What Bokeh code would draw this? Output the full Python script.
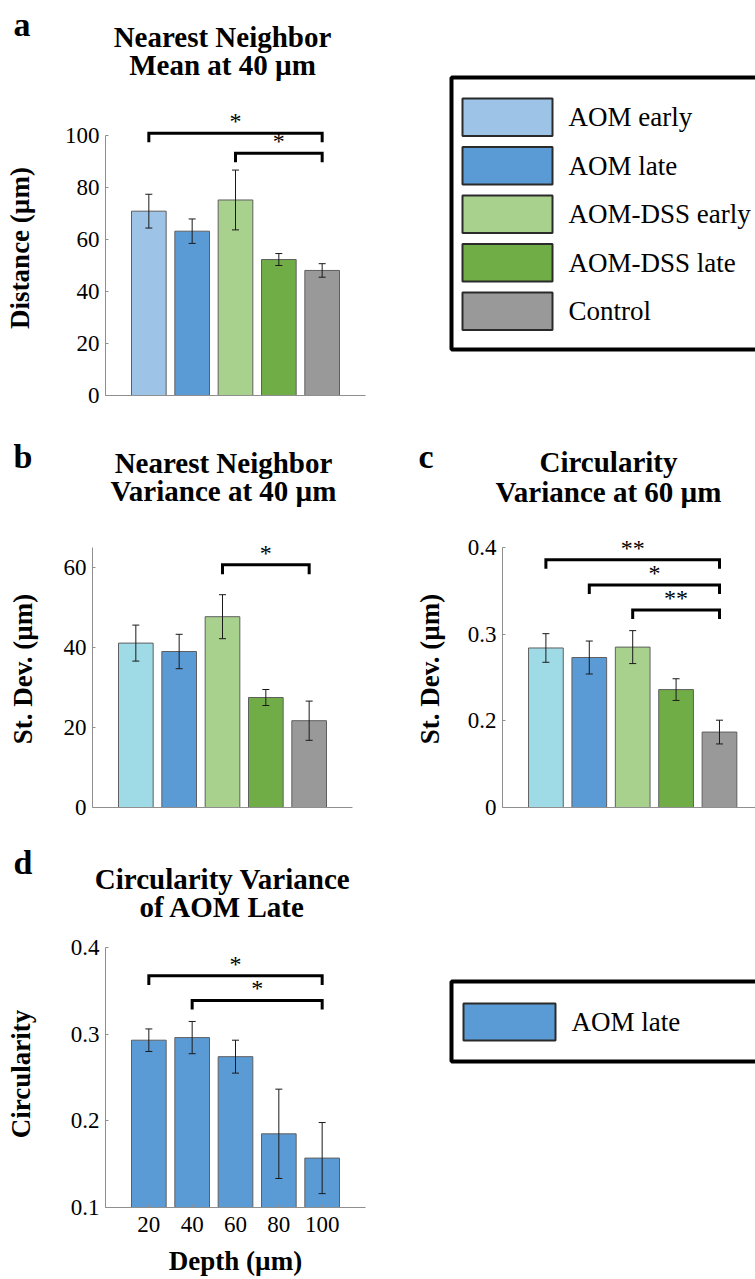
from bokeh.plotting import figure
from bokeh.models import ColumnDataSource, Whisker, TeeHead, FixedTicker, Range1d
from bokeh.layouts import column, row
from bokeh.core.properties import value
from bokeh.embed import file_html
from bokeh.resources import INLINE

# ---------------- data ----------------
groups = ["AOM early", "AOM late", "AOM-DSS early", "AOM-DSS late", "Control"]
colors_a = ["#9DC3E6", "#5B9BD5", "#A9D18E", "#70AD47", "#999999"]
colors_bc = ["#9FDBE6", "#5B9BD5", "#A9D18E", "#70AD47", "#999999"]

nn_mean = [70.9, 63.2, 75.2, 52.3, 48.1]
nn_mean_err = [6.5, 4.7, 11.5, 2.3, 2.6]

nn_var = [41.1, 39.0, 47.7, 27.5, 21.7]
nn_var_err = [4.5, 4.3, 5.5, 2.0, 4.9]

circ_var60 = [0.284, 0.273, 0.285, 0.236, 0.187]
circ_var60_err = [0.0165, 0.019, 0.019, 0.0125, 0.0137]

depths = ["20", "40", "60", "80", "100"]
circ_late = [0.293, 0.296, 0.274, 0.185, 0.157]
circ_late_err = [0.013, 0.0186, 0.019, 0.0515, 0.041]

ticks_a = [0, 20, 40, 60, 80, 100]
tick_labels_a = ["0", "20", "40", "60", "80", "100"]
ticks_b = [0, 20, 40, 60]
tick_labels_b = ["0", "20", "40", "60"]
ticks_c = [0.1, 0.2, 0.3, 0.4]
tick_labels_c = ["0", "0.2", "0.3", "0.4"]
ticks_d = [0.1, 0.2, 0.3, 0.4]
tick_labels_d = ["0.1", "0.2", "0.3", "0.4"]

# significance comparisons (i, j, stars), listed from top bracket to bottom bracket
comps_a = [(0, 4, "*"), (2, 4, "*")]
comps_b = [(2, 4, "*")]
comps_c = [(0, 4, "**"), (1, 4, "*"), (2, 4, "**")]
comps_d = [(0, 4, "*"), (1, 4, "*")]

SERIF = "Liberation Serif"
AXIS_GRAY = "#8f8f8f"


def blank(w, h):
    p = figure(width=w, height=h, x_range=Range1d(0, w), y_range=Range1d(h, 0),
               x_axis_type=None, y_axis_type=None, min_border=0,
               toolbar_location=None, output_backend="svg")
    p.outline_line_color = None
    p.background_fill_color = "white"
    p.border_fill_color = "white"
    return p


def header(w, h, lines, cx, centers, letter, lx, ly):
    p = blank(w, h)
    p.text(x=[cx] * len(lines), y=centers, text=lines, text_font=value(SERIF),
           text_font_size="29px", text_font_style="bold", text_align="center",
           text_baseline="middle", text_color="black")
    p.text(x=[lx], y=[ly], text=[letter], text_font=value(SERIF),
           text_font_size="34px", text_font_style="bold", text_align="left",
           text_baseline="middle", text_color="black")
    return row(p)


def bar_panel(vals, errs, cols, ylab, ticks, tick_labels, bounds, yr, x_end, comps,
              br_base, br_step, br_drop, size, borders, ylab_standoff,
              xcats=None, xlab=None):
    w, h = size
    bl, brd, bt, bb = borders
    p = figure(width=w, height=h, x_range=Range1d(0, x_end), y_range=Range1d(*yr),
               min_border_left=bl, min_border_right=brd, min_border_top=bt,
               min_border_bottom=bb, toolbar_location=None, output_backend="svg")
    p.outline_line_color = None
    p.grid.visible = False
    p.background_fill_color = "white"
    p.border_fill_color = "white"

    xs = list(range(1, len(vals) + 1))
    src = ColumnDataSource(dict(
        x=xs, top=vals, color=cols,
        upper=[v + e for v, e in zip(vals, errs)],
        lower=[v - e for v, e in zip(vals, errs)],
    ))
    p.vbar(x="x", top="top", bottom=yr[0], width=0.8, fill_color="color",
           line_color="#5f5f5f", line_width=1, source=src)
    wh = Whisker(source=src, base="x", upper="upper", lower="lower",
                 line_color="#1a1a1a", line_width=1, level="annotation",
                 upper_head=TeeHead(size=7, line_color="#1a1a1a", line_width=1),
                 lower_head=TeeHead(size=7, line_color="#1a1a1a", line_width=1))
    p.add_layout(wh)

    # significance brackets
    bx, by, sx, sy, st = [], [], [], [], []
    n = len(comps)
    for k, (i, j, star) in enumerate(comps):
        lvl = n - 1 - k
        hgt = br_base + lvl * br_step
        x0, x1 = xs[i], xs[j]
        bx.append([x0, x0, x1, x1])
        by.append([hgt - br_drop, hgt, hgt, hgt - br_drop])
        sx.append((x0 + x1) / 2)
        sy.append(hgt)
        st.append(star)
    p.multi_line(bx, by, line_color="black", line_width=3, line_join="miter")
    p.text(x=sx, y=sy, text=st, text_font=value(SERIF), text_font_size="24px",
           text_align="center", text_baseline="bottom", y_offset=1,
           text_color="black")

    # y axis
    ya = p.yaxis[0]
    ya.ticker = FixedTicker(ticks=ticks)
    ya.major_label_overrides = dict(zip(ticks, tick_labels))
    ya.bounds = bounds
    ya.axis_line_color = AXIS_GRAY
    ya.major_tick_line_color = AXIS_GRAY
    ya.minor_tick_line_color = None
    ya.major_tick_in = 3
    ya.major_tick_out = 0
    ya.major_label_standoff = 6
    ya.major_label_text_font = SERIF
    ya.major_label_text_font_size = "23px"
    ya.major_label_text_color = "black"
    ya.axis_label = ylab
    ya.axis_label_text_font = SERIF
    ya.axis_label_text_font_size = "27px"
    ya.axis_label_text_font_style = "bold"
    ya.axis_label_text_color = "black"
    ya.axis_label_standoff = ylab_standoff

    # x axis
    xa = p.xaxis[0]
    xa.axis_line_color = AXIS_GRAY
    xa.minor_tick_line_color = None
    if xcats is None:
        xa.ticker = FixedTicker(ticks=[])
        xa.major_tick_line_color = None
    else:
        xa.ticker = FixedTicker(ticks=xs)
        xa.major_label_overrides = dict(zip(xs, xcats))
        xa.major_tick_line_color = AXIS_GRAY
        xa.major_tick_in = 3
        xa.major_tick_out = 0
        xa.major_label_standoff = 9
        xa.major_label_text_font = SERIF
        xa.major_label_text_font_size = "23px"
        xa.major_label_text_color = "black"
        xa.axis_label = xlab
        xa.axis_label_text_font = SERIF
        xa.axis_label_text_font_size = "27px"
        xa.axis_label_text_font_style = "bold"
        xa.axis_label_text_color = "black"
        xa.axis_label_standoff = 11
    return p


def legend_panel(names, cols, size, box, first_top, pitch, sw_x, sw_w, sw_h, text_x):
    w, h = size
    p = blank(w, h)
    tops = [first_top + i * pitch for i in range(len(names))]
    src = ColumnDataSource(dict(
        left=[sw_x] * len(names), right=[sw_x + sw_w] * len(names),
        top=tops, bottom=[t + sw_h for t in tops], color=cols,
        tx=[text_x] * len(names), ty=[t + sw_h / 2 for t in tops], name=names,
    ))
    p.quad(left="left", right="right", top="top", bottom="bottom", fill_color="color",
           line_color="#2a2a2a", line_width=2, source=src)
    p.text(x="tx", y="ty", text="name", text_font=value(SERIF), text_font_size="27px",
           text_align="left", text_baseline="middle", text_color="black", source=src)
    bl, br, bt, bb = box
    p.quad(left=[bl], right=[br], top=[bt], bottom=[bb], fill_color=None,
           line_color="black", line_width=4)
    return p


# ---------------- panels ----------------
ha = header(400, 90, ["Nearest Neighbor", "Mean at 40 µm"], 222, [36, 64], "a", 13, 24)
fa = bar_panel(nn_mean, nn_mean_err, colors_a, "Distance (µm)", ticks_a, tick_labels_a,
               (0, 100), (0, 113.46), 6, comps_a, 93.2, 7.7, 3.5,
               (400, 330), (105, 35, 10, 25), 27)

hb = header(400, 100, ["Nearest Neighbor", "Variance at 40 µm"], 223, [42, 70], "b", 13, 36)
fb = bar_panel(nn_var, nn_var_err, colors_bc, "St. Dev. (µm)", ticks_b, tick_labels_b,
               (0, 65), (0, 69.25), 6, comps_b, 60.7, 0, 2.4,
               (400, 320), (92, 48, 10, 33), 23)

hc = header(355, 100, ["Circularity", "Variance at 60 µm"], 208, [41, 71], "c", 18, 36)
fc = bar_panel(circ_var60, circ_var60_err, colors_bc, "St. Dev. (µm)", ticks_c,
               tick_labels_c, (0.1, 0.4), (0.1, 0.4195), 5.83, comps_c,
               0.3277, 0.029, 0.0104, (355, 320), (102, 0, 10, 33), 20)

hd = header(400, 90, ["Circularity Variance", "of AOM Late"], 222, [38, 66], "d", 13, 22)
fd = bar_panel(circ_late, circ_late_err, ["#5B9BD5"] * len(circ_late), "Circularity",
               ticks_d, tick_labels_d, (0.1, 0.4), (0.1, 0.408), 6, comps_d,
               0.3388, 0.0284, 0.0104, (400, 348), (105, 35, 10, 71), 32,
               xcats=depths, xlab="Depth (µm)")

fl1 = legend_panel(groups, colors_a, (355, 420), (51, 420, 77, 349),
                   98, 48.5, 62, 90, 37.5, 168)
fl2 = legend_panel([groups[1]], [colors_a[1]], (355, 438), (51, 420, 141, 221),
                   163, 48.5, 63, 92, 37, 171)

layout = column(
    row(column(ha, fa), fl1),
    row(column(hb, fb), column(hc, fc)),
    row(column(hd, fd), fl2),
)

open("out.html", "w").write(file_html(layout, INLINE, "Chart"))
